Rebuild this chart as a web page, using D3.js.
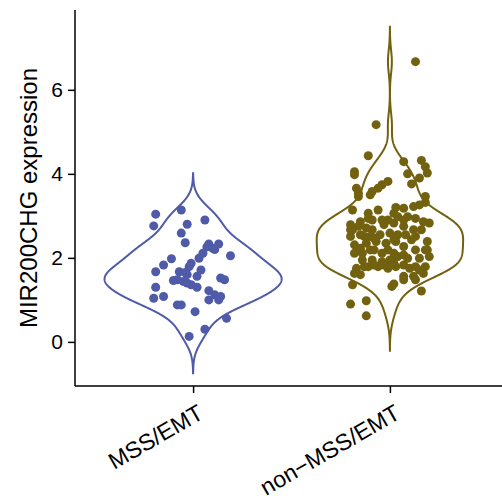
<!DOCTYPE html>
<html lang="en">
<head>
    <script src="https://cdn.jsdelivr.net/npm/d3@7"></script>
    <style>
        body { margin: 0; background: #fff; }
        text { font-family: 'Liberation Sans', Arial, sans-serif; }
    </style>
</head>
<body>

<script>
    var w = 502;
    var h = 501;

    var groups = ['MSS/EMT', 'non\u2212MSS/EMT'];
    var groupColors = ['#4f5ba8', '#72610f'];
    var yTicks = [0, 2, 4, 6];
    var yTitle = 'MIR200CHG expression';

    // expression values, jitter is in category-step units
    var mssValues = [3.04, 2.76, 3.14, 2.90, 2.80, 2.59, 2.36, 2.33, 2.33, 2.23, 2.11, 2.05, 1.99, 1.98,
        1.87, 1.83, 1.67, 1.71, 1.67, 1.60, 1.56, 1.52, 1.46, 1.44, 1.36, 1.30, 1.48, 1.30, 1.22, 1.12,
        1.08, 1.08, 1.04, 1.00, 0.88, 0.88, 0.72, 0.56, 0.30, 0.13, 1.48, 1.79, 1.40, 1.00, 2.26, 2.20, 1.65];
    var mssJitter = [-0.19, -0.20, -0.06, 0.06, -0.03, -0.06, -0.04, 0.08, 0.13, 0.10, 0.05, 0.19, 0.03, -0.11,
        -0.01, -0.15, -0.19, 0.04, -0.07, -0.03, 0.02, 0.14, -0.10, -0.05, -0.01, -0.19, 0.16, 0.02, 0.08, 0.11,
        0.14, -0.15, -0.20, 0.08, -0.08, -0.06, 0.01, 0.17, 0.06, -0.02, -0.08, -0.02, -0.03, 0.13, 0.07, 0.11, -0.04];

    var nonValues = [6.67, 5.17, 4.43, 4.05, 3.98, 4.29, 4.32, 4.17, 4.02, 4.00, 3.90, 3.76, 3.66, 3.54, 3.82,
        3.74, 3.66, 3.58, 3.50, 3.46, 3.46, 3.32, 3.26, 3.22, 3.14, 3.20, 3.18, 3.06, 3.14, 2.90,
        2.90, 2.98, 2.98, 2.94, 2.86, 2.83, 2.86, 2.67, 2.75, 2.71, 2.67, 2.79, 2.83, 2.75, 2.67,
        2.67, 2.51, 2.55, 2.51, 2.55, 2.59, 2.55, 2.55, 2.51, 2.31, 2.35, 2.39, 2.35, 2.39, 2.39,
        2.11, 2.11, 2.19, 2.19, 2.27, 2.19, 2.19, 2.03, 1.95, 1.95, 1.91, 1.95, 2.03, 1.99, 1.99,
        1.75, 1.79, 1.79, 1.75, 1.79, 1.83, 1.79, 1.79, 1.63, 1.60, 1.56, 1.56, 1.63, 1.36, 1.32,
        1.38, 1.21, 0.90, 0.98, 0.62, 2.67, 2.79, 2.94, 2.90, 3.06, 2.90, 2.51, 2.47, 2.43, 2.43,
        2.23, 2.19, 2.11, 2.11, 2.07, 1.83, 1.83, 1.87, 1.75, 1.71, 1.79, 2.19, 1.48, 1.48];
    var nonJitter = [0.13, -0.07, -0.11, -0.18, -0.18, 0.07, 0.16, 0.18, 0.19, 0.09, 0.15, 0.11, -0.17, -0.16, -0.01,
        -0.04, -0.06, -0.09, -0.10, -0.16, 0.18, 0.18, 0.15, 0.12, -0.19, 0.03, 0.07, -0.11, -0.06, -0.09,
        -0.01, 0.04, 0.09, 0.13, 0.17, 0.20, -0.15, -0.19, -0.16, -0.12, -0.09, -0.03, 0.02, 0.07, 0.12,
        0.16, -0.20, -0.15, -0.10, -0.05, 0.00, 0.04, 0.08, 0.13, -0.18, -0.12, -0.07, -0.02, 0.03, 0.19,
        -0.18, -0.14, -0.08, -0.01, 0.07, 0.13, 0.18, 0.20, -0.14, -0.09, -0.04, 0.00, 0.04, 0.09, 0.15,
        -0.17, -0.11, -0.06, -0.01, 0.03, 0.07, 0.13, 0.18, -0.18, -0.15, 0.07, 0.12, 0.17, -0.19, 0.01,
        0.02, 0.16, -0.20, -0.12, -0.12, -0.20, -0.20, -0.11, -0.04, 0.02, 0.07, -0.13, -0.08, 0.02, 0.11,
        -0.15, -0.10, -0.04, 0.02, 0.07, -0.08, -0.03, 0.02, 0.10, 0.15, -0.13, 0.19, 0.07, 0.13];

    var allValues = [mssValues, nonValues];
    var allJitter = [mssJitter, nonJitter];

    // panel edges (note: "top" is a reserved window global)
    var pLeft = 75, pTop = 10, pBottom = 386, pRight = 508;

    var svg = d3.select('body').append('svg').attr('width', w).attr('height', h);

    var x = d3.scalePoint().domain(groups).range([pLeft, pRight]).padding(0.6);
    var y = d3.scaleLinear().domain([-1.05, 7.9]).range([pBottom, pTop]);
    var step = x.step();

    // gaussian kde like ggplot's geom_violin (bw.nrd0, trim = FALSE)
    function nrd0(v) {
        var s = v.slice().sort(d3.ascending);
        var iqr = d3.quantile(s, 0.75) - d3.quantile(s, 0.25);
        var lo = Math.min(d3.deviation(s), iqr / 1.34);
        return 0.9 * lo * Math.pow(s.length, -0.2);
    }
    function kde(v) {
        var bw = nrd0(v);
        var lo = d3.min(v) - 3 * bw, hi = d3.max(v) + 3 * bw;
        var n = 512, out = [];
        for (var i = 0; i < n; i++) {
            var t = lo + (hi - lo) * i / (n - 1);
            var dens = d3.mean(v, function(d) {
                var u = (t - d) / bw;
                return Math.exp(-0.5 * u * u) / Math.sqrt(2 * Math.PI);
            }) / bw;
            out.push([t, dens]);
        }
        return out;
    }

    var densities = allValues.map(kde);
    var maxDens = d3.max(densities, function(d) { return d3.max(d, function(p) { return p[1]; }); });
    var wScale = d3.scaleLinear().domain([0, maxDens]).range([0, 0.45 * step]);

    groups.forEach(function(g, gi) {
        var cx = x(g);
        var dens = densities[gi];
        var pts = dens.map(function(p) { return [cx - wScale(p[1]), y(p[0])]; })
            .concat(dens.slice().reverse().map(function(p) { return [cx + wScale(p[1]), y(p[0])]; }));
        svg.append('path')
            .attr('d', d3.line()(pts) + 'Z')
            .attr('fill', 'none')
            .attr('stroke', groupColors[gi])
            .attr('stroke-width', 2);

        svg.append('g').selectAll('circle')
            .data(allValues[gi])
            .enter()
            .append('circle')
            .attr('cx', function(d, i) { return cx + allJitter[gi][i] * step; })
            .attr('cy', function(d) { return y(d); })
            .attr('r', 4.5)
            .attr('fill', groupColors[gi]);
    });

    // axes
    var yAxis = svg.append('g')
        .attr('transform', 'translate(' + pLeft + ',0)')
        .call(d3.axisLeft(y).tickValues(yTicks).tickSize(7).tickPadding(5).tickFormat(d3.format('d')));
    yAxis.select('.domain').attr('d', 'M0,' + pTop + 'V' + pBottom).attr('stroke-width', 1.5);
    yAxis.selectAll('.tick line').attr('stroke-width', 1.5);
    yAxis.selectAll('text').attr('font-size', '21px').attr('fill', '#000')
        .style('font-family', "'Liberation Sans', Arial, sans-serif");

    var xAxis = svg.append('g')
        .attr('transform', 'translate(0,' + pBottom + ')')
        .call(d3.axisBottom(x).tickSize(7).tickSizeOuter(0));
    xAxis.select('.domain').attr('d', 'M' + pLeft + ',0H' + w).attr('stroke-width', 1.5);
    xAxis.selectAll('.tick line').attr('stroke-width', 1.5);
    xAxis.selectAll('text')
        .attr('font-size', '23px')
        .attr('fill', '#000')
        .style('font-family', "'Liberation Sans', Arial, sans-serif")
        .attr('text-anchor', 'end')
        .attr('dy', 0)
        .attr('y', 33)
        .attr('x', -6)
        .attr('transform', 'rotate(-30)');

    svg.append('text')
        .attr('transform', 'translate(37,' + ((pTop + pBottom) / 2) + ') rotate(-90)')
        .attr('text-anchor', 'middle')
        .attr('font-size', '24px')
        .attr('fill', '#000')
        .text(yTitle);

</script>
</body>
</html>
